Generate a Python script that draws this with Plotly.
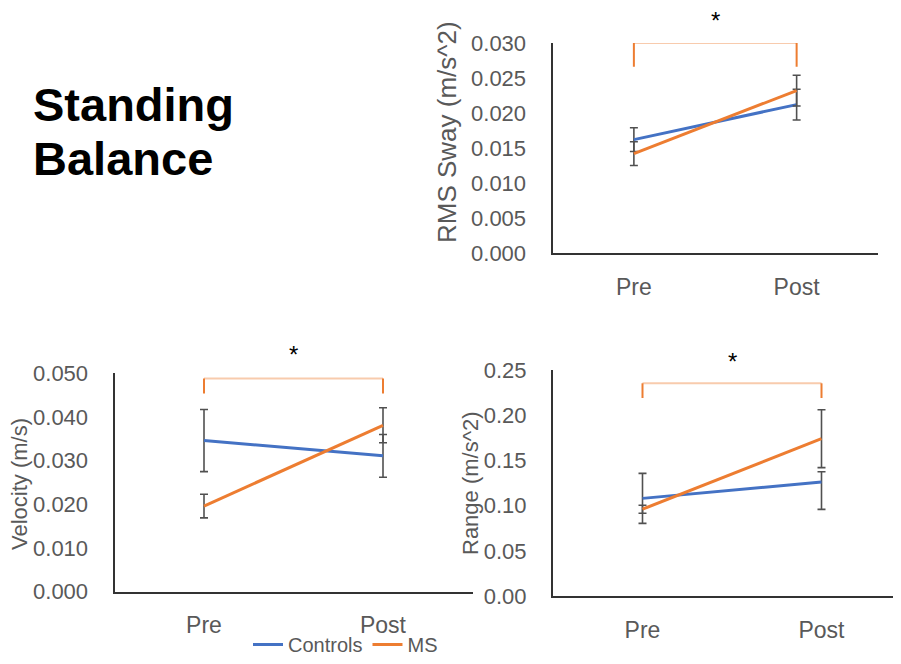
import plotly.graph_objects as go

# ---------------- data ----------------
categories = ["Pre", "Post"]
series_names = ["Controls", "MS"]

rms_controls = [0.0162, 0.0212]
rms_ms = [0.0142, 0.0232]
rms_controls_err = [0.0017, 0.0022]
rms_ms_err = [0.0017, 0.0022]

vel_controls = [0.0346, 0.0311]
vel_ms = [0.0196, 0.0381]
vel_controls_err = [0.0071, 0.0049]
vel_ms_err = [0.0027, 0.0040]

rng_controls = [0.108, 0.126]
rng_ms = [0.096, 0.174]
rng_controls_err_plus = [0.0277, 0.0115]
rng_controls_err_minus = [0.0277, 0.0302]
rng_ms_err = [0.0044, 0.0320]

rms_ticks = [0.000, 0.005, 0.010, 0.015, 0.020, 0.025, 0.030]
vel_ticks = [0.000, 0.010, 0.020, 0.030, 0.040, 0.050]
rng_ticks = [0.00, 0.05, 0.10, 0.15, 0.20, 0.25]

# significance brackets: [horizontal level, end of vertical ticks], asterisk level
rms_bracket = [0.0300, 0.0266]
vel_bracket = [0.0488, 0.0454]
rng_bracket = [0.2353, 0.2190]
rms_star = 0.0332
vel_star = 0.0543
rng_star = 0.2590

# ---------------- styling ----------------
BLUE = "#4472C4"
ORANGE = "#ED7D31"
LIGHT_ORANGE = "#F8CBAD"
GRAY = "#595959"
ERR = "#505050"
AXIS = "#333333"
FONT = "Liberation Sans, Arial, sans-serif"

xpos = list(range(len(categories)))

fig = go.Figure()


def add_pair(xa, ya, ctrl, ms, ctrl_plus, ctrl_minus, ms_plus, ms_minus, show):
    fig.add_trace(go.Scatter(
        x=xpos, y=ctrl, mode="lines", name=series_names[0],
        line=dict(color=BLUE, width=3), xaxis=xa, yaxis=ya,
        showlegend=show, legendgroup="c",
        error_y=dict(type="data", symmetric=False, array=ctrl_plus,
                     arrayminus=ctrl_minus, color=ERR, thickness=1.6, width=4),
    ))
    fig.add_trace(go.Scatter(
        x=xpos, y=ms, mode="lines", name=series_names[1],
        line=dict(color=ORANGE, width=3), xaxis=xa, yaxis=ya,
        showlegend=show, legendgroup="m",
        error_y=dict(type="data", symmetric=False, array=ms_plus,
                     arrayminus=ms_minus, color=ERR, thickness=1.6, width=4),
    ))


add_pair("x", "y", rms_controls, rms_ms, rms_controls_err, rms_controls_err,
         rms_ms_err, rms_ms_err, True)
add_pair("x2", "y2", vel_controls, vel_ms, vel_controls_err, vel_controls_err,
         vel_ms_err, vel_ms_err, False)
add_pair("x3", "y3", rng_controls, rng_ms, rng_controls_err_plus,
         rng_controls_err_minus, rng_ms_err, rng_ms_err, False)

# page body has an 8px default margin: figure occupies the window minus it
OFF = 8
W, H = 901 - OFF, 664 - OFF


def px(p):
    return (p - OFF) / W


def py(p):
    return 1 - (p - OFF) / H


def xdom(a, b):
    return [px(a), min(px(b), 1.0)]


def ydom(top, bottom):
    return [py(bottom), py(top)]


xcommon = dict(
    tickmode="array", tickvals=xpos, ticktext=categories,
    showgrid=False, zeroline=False, showline=True, linecolor=AXIS, linewidth=2,
    ticks="", ticklabelstandoff=12, automargin=False,
    tickfont=dict(family=FONT, size=23, color=GRAY), fixedrange=True,
)
ycommon = dict(
    showgrid=False, zeroline=False, showline=True, linecolor=AXIS, linewidth=2,
    ticks="", ticklabelstandoff=20, automargin=False,
    tickfont=dict(family=FONT, size=22, color=GRAY), fixedrange=True,
)

y_max = dict(y=rms_ticks[-1], y2=vel_ticks[-1], y3=rng_ticks[-1])

fig.update_layout(
    width=W, height=H,
    margin=dict(l=0, r=0, t=0, b=0, autoexpand=False),
    paper_bgcolor="white", plot_bgcolor="white",
    xaxis=dict(xcommon, domain=xdom(552.5, 878), range=[-0.5, 1.5], anchor="y"),
    yaxis=dict(ycommon, domain=ydom(43, 253), range=[0, y_max["y"]],
               tickvals=rms_ticks, tickformat=".3f", anchor="x"),
    xaxis2=dict(xcommon, domain=xdom(114.5, 472.5), range=[-0.5, 1.5], anchor="y2"),
    yaxis2=dict(ycommon, domain=ydom(373.3, 591.7), range=[0, y_max["y2"]],
                tickvals=vel_ticks, tickformat=".3f", anchor="x2"),
    xaxis3=dict(xcommon, domain=xdom(553, 901), range=[-0.5, -0.5 + 348 * 2 / 358],
                anchor="y3"),
    yaxis3=dict(ycommon, domain=ydom(370, 596), range=[0, y_max["y3"]],
                tickvals=rng_ticks, tickformat=".2f", anchor="x3"),
    showlegend=True,
    legend=dict(orientation="h", x=px(248), xanchor="left",
                yref="container", y=-0.011, yanchor="bottom",
                font=dict(family=FONT, size=20, color=GRAY),
                bgcolor="rgba(0,0,0,0)", itemwidth=30, tracegroupgap=0),
)

# significance brackets
shapes = []
for xa, ya, br in [("x", "y", rms_bracket), ("x2", "y2", vel_bracket),
                   ("x3", "y3", rng_bracket)]:
    shapes.append(dict(type="line", xref=xa, yref=ya, x0=xpos[0], x1=xpos[1],
                       y0=br[0], y1=br[0], line=dict(color=LIGHT_ORANGE, width=2)))
    for xi in xpos:
        shapes.append(dict(type="line", xref=xa, yref=ya, x0=xi, x1=xi,
                           y0=br[0], y1=br[1], line=dict(color=ORANGE, width=2)))
fig.update_layout(shapes=shapes)

annotations = []
for xa, ya, sy in [("x", "y", rms_star), ("x2", "y2", vel_star), ("x3", "y3", rng_star)]:
    annotations.append(dict(xref=xa, yref=ya + " domain", x=sum(xpos) / len(xpos),
                            y=sy / y_max[ya],
                            text="*", showarrow=False,
                            font=dict(family=FONT, size=24, color="black"),
                            xanchor="center", yanchor="middle"))

# axis titles
for text, x, y, size in [("RMS Sway (m/s^2)", 447, 132, 26),
                         ("Velocity (m/s)", 19, 484, 22),
                         ("Range (m/s^2)", 470, 483, 22)]:
    annotations.append(dict(xref="paper", yref="paper", x=px(x), y=py(y),
                            text=text, textangle=-90, showarrow=False,
                            xanchor="center", yanchor="middle",
                            font=dict(family=FONT, size=size, color=GRAY)))

# panel heading
for text, y in [("Standing", 105), ("Balance", 158)]:
    annotations.append(dict(xref="paper", yref="paper", x=px(31), y=py(y),
                            text="<b>" + text + "</b>", showarrow=False,
                            xanchor="left", yanchor="middle",
                            font=dict(family=FONT, size=47, color="black")))

fig.update_layout(annotations=annotations)

fig.write_html("out.html")
